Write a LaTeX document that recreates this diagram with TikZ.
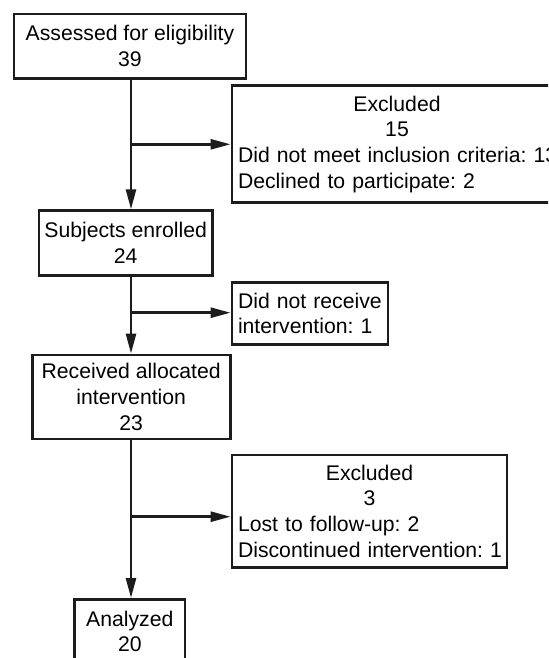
\documentclass[tikz,border=0pt]{standalone}
\usepackage{fontspec}
\setmainfont{Liberation Sans}
\usetikzlibrary{arrows.meta,calc}
\definecolor{ink}{HTML}{1C1C1C}
\tikzset{>={Triangle[length=10pt,width=5pt]},box/.style={draw=ink,line width=1.4pt,align=center,inner sep=0pt,font=\fontsize{10.6pt}{12.9pt}\selectfont\frenchspacing},lbox/.style={box,align=left,inner xsep=3pt},arr/.style={->,line width=1.3pt,ink}}

\begin{document}
\begin{tikzpicture}[x=0.5pt,y=-0.5pt]
\useasboundingbox (0,0) rectangle (548,658);
\clip (0,0) rectangle (548,658);
\node[box,minimum width=116pt,minimum height=32.2pt] (assess) at (130,46.2) {Assessed for eligibility\\39};
\node[lbox,text width=159pt,minimum height=58.4pt] (excl1) at (397,144.3) {{\centering Excluded\\15\par}\mbox{Did not meet inclusion criteria: 13}\\\mbox{Declined to participate: 2}};
\node[box,minimum width=86.7pt,minimum height=32.3pt] (enrol) at (125.7,243) {Subjects enrolled\\24};
\node[lbox,text width=72pt,minimum height=30.8pt] (norecv) at (310,313.5) {\mbox{Did not receive}\\\mbox{intervention: 1}};
\node[box,minimum width=98.9pt,minimum height=42pt] (recv) at (131.2,397) {Received allocated\\intervention\\23};
\node[lbox,text width=131.5pt,minimum height=56.2pt] (excl2) at (369.5,511.2) {{\centering Excluded\\3\par}\mbox{Lost to follow-up: 2}\\\mbox{Discontinued intervention: 1}};
\node[box,minimum width=55.2pt,minimum height=32pt] (anal) at (129.8,631.4) {Analyzed\\20};
\coordinate (b1) at (131,144.3);
\coordinate (b2) at (131,312.7);
\coordinate (b3) at (131,516.7);
\draw[arr] (b1 |- assess.south) -- (b1 |- enrol.north);
\draw[arr] (b1 |- enrol.south) -- (b1 |- recv.north);
\draw[arr] (b1 |- recv.south) -- (b1 |- anal.north);
\draw[arr] (b1) -- (b1 -| excl1.west);
\draw[arr] (b2) -- (b2 -| norecv.west);
\draw[arr] (b3) -- (b3 -| excl2.west);
\end{tikzpicture}
\end{document}
